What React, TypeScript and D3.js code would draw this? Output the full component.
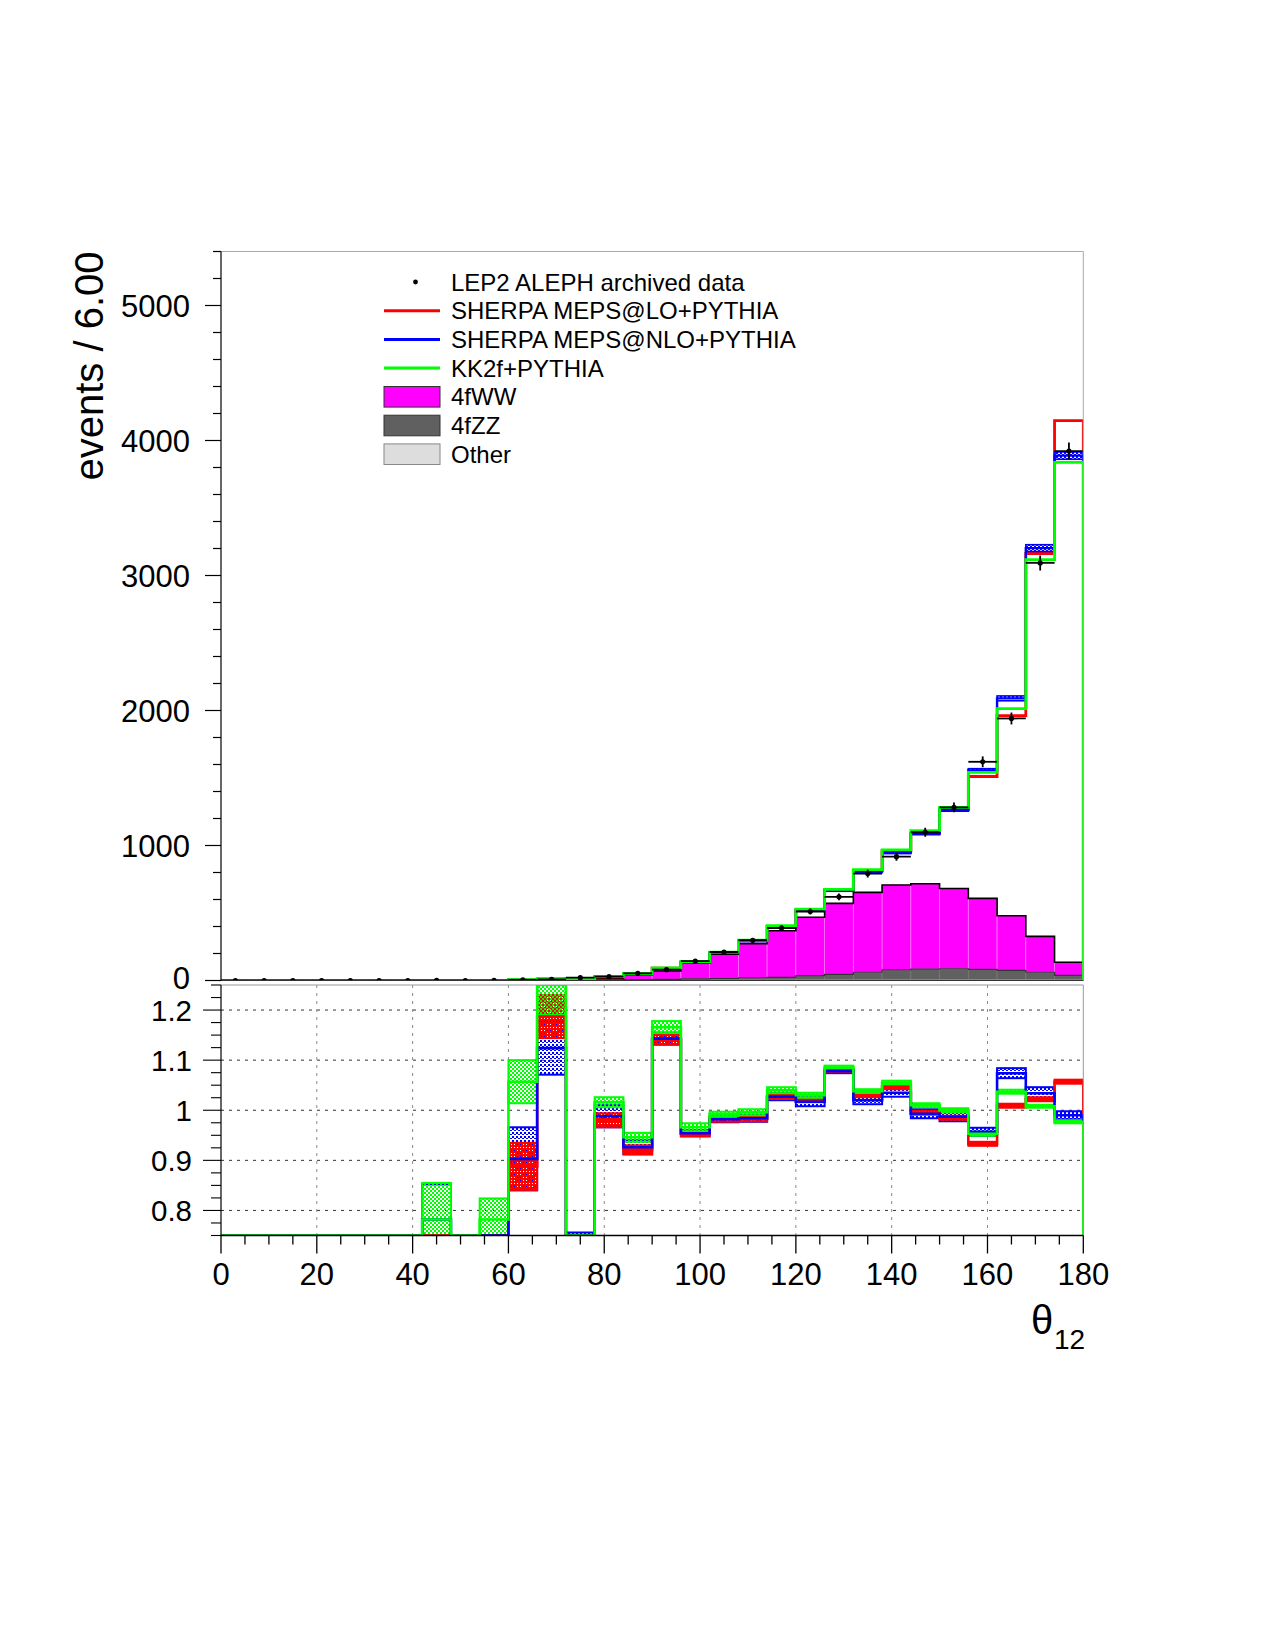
import React from "react";
import * as d3 from "d3";

// theta_12 binning (degrees)
const binStart = 0;
const binEnd = 180;
const binWidth = 6;

// LEP2 ALEPH archived data, events / bin
const dataCounts = [0, 0, 0, 0, 0, 0, 0, 1, 0, 1, 5, 9, 21, 28, 53, 80, 144, 211, 298, 389, 511, 620, 792, 917, 1098, 1283, 1620, 1941, 3093, 3922];

// total predictions (signal + backgrounds)
const sherpaLO = [0, 0, 0, 0, 0, 0, 0, 0, 0, 0, 5, 11, 14, 27, 49, 91, 137, 207, 293, 400, 521, 669, 816, 960, 1092, 1264, 1511, 1962, 3163, 4147];
const sherpaNLO = [0, 0, 0, 0, 0, 0, 0, 1, 0, 0, 5, 10, 15, 28, 49, 91, 137, 207, 293, 400, 520, 668, 808, 949, 1090, 1266, 1556, 2090, 3203, 3888];
const sherpaNLOErr = [0, 0, 0, 0, 0, 0, 0, 0, 0, 0, 1, 1, 2, 2, 3, 3, 3, 3, 4, 4, 6, 7, 8, 9, 10, 12, 13, 18, 25, 27];
const kk2f = [0, 0, 0, 0, 0, 0, 0, 1, 0, 1, 6, 11, 14, 29, 50, 93, 140, 210, 298, 406, 528, 675, 822, 968, 1110, 1283, 1542, 2014, 3118, 3838];

// stacked backgrounds (bottom to top)
const bkgOther = [0, 0, 0, 0, 0, 0, 0, 0, 0, 0, 1, 1, 1, 1, 2, 2, 2, 3, 3, 3, 4, 4, 5, 5, 5, 6, 6, 6, 6, 5];
const bkgZZ = [0, 0, 0, 0, 0, 0, 0, 0, 0, 0, 1, 1, 1, 3, 5, 7, 10, 12, 16, 20, 32, 42, 56, 73, 80, 81, 77, 69, 55, 33];
const bkgWW = [0, 0, 0, 0, 0, 0, 0, 0, 0, 0, 3, 7, 9, 12, 34, 61, 120, 179, 253, 346, 432, 525, 592, 629, 632, 595, 525, 405, 266, 97];

// ratio MC / data with band half-widths
const ratioLO = [0, 0, 0, 0, 0, 0, 0, 0, 0, 0, 0.888, 1.187, 0.69, 0.98, 0.921, 1.142, 0.953, 0.982, 0.983, 1.028, 1.02, 1.079, 1.03, 1.047, 0.995, 0.985, 0.933, 1.009, 1.022, 1.057];
const ratioLOErr = [0, 0, 0, 0, 0, 0, 0, 0, 0, 0, 0.047, 0.043, 0.05, 0.014, 0.009, 0.011, 0.005, 0.005, 0.005, 0.004, 0.004, 0.003, 0.004, 0.005, 0.004, 0.004, 0.004, 0.004, 0.004, 0.004];
const ratioNLO = [0, 0, 0, 0, 0, 0, 0, 0.782, 0, 0, 0.903, 1.124, 0.71, 0.988, 0.926, 1.143, 0.954, 0.982, 0.984, 1.027, 1.017, 1.078, 1.02, 1.035, 0.993, 0.987, 0.957, 1.074, 1.034, 0.99];
const ratioNLOErr = [0, 0, 0, 0, 0, 0, 0, 0.07, 0, 0, 0.063, 0.053, 0.046, 0.022, 0.014, 0.012, 0.006, 0.006, 0.007, 0.007, 0.009, 0.004, 0.008, 0.008, 0.009, 0.009, 0.008, 0.01, 0.012, 0.008];
const ratioKK = [0, 0, 0, 0, 0, 0, 0, 0.782, 0, 0.782, 1.057, 1.27, 0.68, 1.016, 0.946, 1.166, 0.966, 0.992, 0.996, 1.04, 1.03, 1.085, 1.038, 1.055, 1.01, 1.0, 0.953, 1.037, 1.008, 0.977];
const ratioKKErr = [0, 0, 0, 0, 0, 0, 0, 0.073, 0, 0.042, 0.043, 0.08, 0.05, 0.01, 0.009, 0.012, 0.008, 0.005, 0.006, 0.006, 0.005, 0.004, 0.004, 0.004, 0.004, 0.004, 0.004, 0.004, 0.003, 0.003];

const mainYTicks = [0, 1000, 2000, 3000, 4000, 5000];
const ratioYTicks = [0.8, 0.9, 1, 1.1, 1.2];
const xTicks = [0, 20, 40, 60, 80, 100, 120, 140, 160, 180];

const legendLines = [
  { label: "SHERPA MEPS@LO+PYTHIA", color: "#ff0000" },
  { label: "SHERPA MEPS@NLO+PYTHIA", color: "#0000ff" },
  { label: "KK2f+PYTHIA", color: "#00ff00" },
];
const legendBoxes = [
  { label: "4fWW", color: "#ff00ff", edge: "#333" },
  { label: "4fZZ", color: "#606060", edge: "#333" },
  { label: "Other", color: "#dddddd", edge: "#888" },
];

const font = "'Liberation Sans', Arial, Helvetica, sans-serif";
const left = 221;
const right = 1083.3;
const mainTop = 251.5;
const mainBottom = 980.5;
const ratioTop = 985;
const ratioBottom = 1235.5;

export default function App() {
  const edges = d3.range(binStart, binEnd + binWidth / 2, binWidth);
  const x = d3.scaleLinear().domain([binStart, binEnd]).range([left, right]);
  const y = d3.scaleLinear().domain([0, 5400]).range([mainBottom, mainTop]);
  const yr = d3.scaleLinear().domain([0.75, 1.25]).range([ratioBottom, ratioTop]);
  const line = d3.line();

  const clampR = (v) => Math.max(0.75, Math.min(1.25, v));

  // histogram outline, dropping to the base at both ends
  const stepPath = (vals, ys, base) => {
    const pts = [[x(edges[0]), ys(base)]];
    vals.forEach((v, i) => {
      pts.push([x(edges[i]), ys(v)], [x(edges[i + 1]), ys(v)]);
    });
    pts.push([x(edges[edges.length - 1]), ys(base)]);
    return line(pts);
  };

  const table = dataCounts.map((_, i) => ({ other: bkgOther[i], zz: bkgZZ[i], ww: bkgWW[i] }));
  const stacked = d3.stack().keys(["other", "zz", "ww"])(table);
  const stackFill = { other: "#dddddd", zz: "#606060", ww: "#ff00ff" };
  const stackSep = { other: "#eeeeee", zz: "#777777", ww: "#ff70ff" };
  const stackEdge = { other: "#888", zz: "#333", ww: "#000" };

  const kkSet = { c: ratioKK, e: ratioKKErr, color: "#00ff00", pat: "patG" };
  const loSet = { c: ratioLO, e: ratioLOErr, color: "#ff0000", pat: "patR" };
  const nloSet = { c: ratioNLO, e: ratioNLOErr, color: "#0000ff", pat: "patB" };
  const bandOrder = [nloSet, loSet, kkSet];
  const ratioLineOrder = [loSet, nloSet, kkSet];

  return (
    <svg width={1275} height={1650} style={{ position: "absolute", left: 0, top: 0, background: "#fff" }} fontFamily={font}>
      <defs>
        <clipPath id="clipMain">
          <rect x={left} y={mainTop} width={right - left} height={mainBottom - mainTop} />
        </clipPath>
        <clipPath id="clipRatio">
          <rect x={left} y={ratioTop} width={right - left} height={ratioBottom - ratioTop} />
        </clipPath>
        <pattern id="patG" width={4} height={4} patternUnits="userSpaceOnUse">
          <rect x={0} y={0} width={2} height={2} fill="#00ff00" />
          <rect x={2} y={2} width={2} height={2} fill="#00ff00" />
        </pattern>
        <pattern id="patR" width={3} height={3} patternUnits="userSpaceOnUse">
          <path d="M0 0h3v3h-3z M1 1h1v1h-1z" fill="#ff0000" fillRule="evenodd" />
        </pattern>
        <pattern id="patB" width={4} height={4} patternUnits="userSpaceOnUse">
          <rect x={0} y={0} width={2} height={2} fill="#0000ff" />
          <rect x={2} y={2} width={2} height={1} fill="#0000ff" />
        </pattern>
      </defs>

      {/* ---------- main pad ---------- */}
      <g clipPath="url(#clipMain)">
        {stacked.map((layer) => (
          <g key={layer.key}>
            {layer.map((d, i) => (
              <rect
                key={i}
                x={x(edges[i])}
                y={y(d[1])}
                width={x(edges[i + 1]) - x(edges[i])}
                height={Math.max(0, y(d[0]) - y(d[1]))}
                fill={stackFill[layer.key]}
                stroke={stackSep[layer.key]}
                strokeWidth={0.8}
              />
            ))}
          </g>
        ))}
        {stacked.map((layer) => (
          <path
            key={layer.key}
            d={stepPath(layer.map((d) => d[1]), y, 0)}
            fill="none"
            stroke={stackEdge[layer.key]}
            strokeWidth={layer.key === "ww" ? 1.6 : 1.2}
          />
        ))}

        <path d={stepPath(sherpaLO, y, 0)} fill="none" stroke="#ff0000" strokeWidth={2.8} />
        {sherpaNLO.map((v, i) =>
          sherpaNLOErr[i] > 0 ? (
            <rect
              key={i}
              x={x(edges[i])}
              y={y(v + sherpaNLOErr[i])}
              width={x(edges[i + 1]) - x(edges[i])}
              height={y(v - sherpaNLOErr[i]) - y(v + sherpaNLOErr[i])}
              fill="url(#patB)"
              stroke="#0000ff"
              strokeWidth={1.6}
            />
          ) : null
        )}
        <path d={stepPath(sherpaNLO, y, 0)} fill="none" stroke="#0000ff" strokeWidth={2.4} />
        <path d={stepPath(kk2f, y, 0)} fill="none" stroke="#00ff00" strokeWidth={2.8} />

        {dataCounts.map((v, i) => {
          const cx = x((edges[i] + edges[i + 1]) / 2);
          const err = Math.sqrt(v);
          return (
            <g key={i} stroke="#000" strokeWidth={1.8}>
              <line x1={x(edges[i])} x2={x(edges[i + 1])} y1={y(v)} y2={y(v)} />
              {v > 0 && <line x1={cx} x2={cx} y1={y(v + err)} y2={y(v - err)} />}
              <circle cx={cx} cy={y(v)} r={2.6} fill="#000" stroke="none" />
            </g>
          );
        })}
      </g>

      {/* main frame */}
      <line x1={left} x2={right} y1={mainTop} y2={mainTop} stroke="#aaa" strokeWidth={1} />
      <line x1={right} x2={right} y1={mainTop} y2={mainBottom} stroke="#aaa" strokeWidth={1} />
      <line x1={left} x2={right} y1={mainBottom} y2={mainBottom} stroke="#333" strokeWidth={1} />
      <line x1={left} x2={left} y1={mainTop} y2={mainBottom} stroke="#000" strokeWidth={1.2} />
      {d3.range(0, 5401, 200).map((t) => (
        <line key={t} x1={left - (t % 1000 === 0 ? 16 : 8)} x2={left} y1={y(t)} y2={y(t)} stroke="#000" strokeWidth={1.2} />
      ))}
      {mainYTicks.map((t) => (
        <text key={t} x={190} y={y(t) + (t === 0 ? 8 : 11)} fontSize={31} textAnchor="end" fill="#000">
          {t}
        </text>
      ))}
      <text transform={`translate(103, ${mainTop}) rotate(-90)`} fontSize={40} textAnchor="end" fill="#000">
        events / 6.00
      </text>

      {/* legend */}
      <g>
        <circle cx={415.5} cy={282} r={2.4} fill="#000" />
        <text x={451} y={282 + 8.6} fontSize={24} fill="#000">
          LEP2 ALEPH archived data
        </text>
        {legendLines.map((d, i) => {
          const ly = 282 + 28.7 * (i + 1);
          return (
            <g key={d.label}>
              <line x1={384} x2={440} y1={ly} y2={ly} stroke={d.color} strokeWidth={3} />
              <text x={451} y={ly + 8.6} fontSize={24} fill="#000">
                {d.label}
              </text>
            </g>
          );
        })}
        {legendBoxes.map((d, i) => {
          const ly = 282 + 28.7 * (i + 4);
          return (
            <g key={d.label}>
              <rect x={384} y={ly - 10.3} width={56} height={20.6} fill={d.color} stroke={d.edge} strokeWidth={1} />
              <text x={451} y={ly + 8.6} fontSize={24} fill="#000">
                {d.label}
              </text>
            </g>
          );
        })}
      </g>

      {/* ---------- ratio pad ---------- */}
      {ratioYTicks.map((t) => (
        <line key={t} x1={left} x2={right} y1={yr(t)} y2={yr(t)} stroke="#333" strokeWidth={1} strokeDasharray="3,5" />
      ))}
      {xTicks.slice(1, -1).map((t) => (
        <line key={t} x1={x(t)} x2={x(t)} y1={ratioTop} y2={ratioBottom} stroke="#888" strokeWidth={1} strokeDasharray="3,5" />
      ))}

      <g clipPath="url(#clipRatio)">
        {bandOrder.map((s) => (
          <g key={s.pat}>
            {s.c.map((v, i) => {
              if (s.e[i] <= 0) return null;
              const hi = clampR(v + s.e[i]);
              const lo = clampR(v - s.e[i]);
              if (hi - lo <= 0) return null;
              return (
                <rect
                  key={i}
                  x={x(edges[i])}
                  y={yr(hi)}
                  width={x(edges[i + 1]) - x(edges[i])}
                  height={yr(lo) - yr(hi)}
                  fill={`url(#${s.pat})`}
                  stroke={s.color}
                  strokeWidth={2}
                />
              );
            })}
          </g>
        ))}
        {ratioLineOrder.map((s) => (
          <path key={s.pat} d={stepPath(s.c.map(clampR), yr, 0.75)} fill="none" stroke={s.color} strokeWidth={2.6} />
        ))}
      </g>

      {/* ratio frame and axes */}
      <line x1={left} x2={right} y1={ratioTop} y2={ratioTop} stroke="#999" strokeWidth={1} />
      <line x1={right} x2={right} y1={ratioTop} y2={ratioBottom} stroke="#999" strokeWidth={1} />
      <line x1={left} x2={left} y1={ratioTop} y2={ratioBottom} stroke="#000" strokeWidth={1.2} />
      <line x1={left} x2={right} y1={ratioBottom} y2={ratioBottom} stroke="#000" strokeWidth={1.4} />
      {d3.range(0, 21).map((k) => {
        const t = 0.75 + k * 0.025;
        const major = k % 4 === 2;
        return <line key={k} x1={left - (major ? 18 : 10)} x2={left} y1={yr(t)} y2={yr(t)} stroke="#000" strokeWidth={1.1} />;
      })}
      {ratioYTicks.map((t) => (
        <text key={t} x={192} y={yr(t) + 10.5} fontSize={29.5} textAnchor="end" fill="#000">
          {String(t)}
        </text>
      ))}
      {d3.range(binStart, binEnd + 1, 5).map((t) => (
        <line key={t} x1={x(t)} x2={x(t)} y1={ratioBottom} y2={ratioBottom + (t % 20 === 0 ? 18 : 9)} stroke="#000" strokeWidth={1.3} />
      ))}
      {xTicks.map((t) => (
        <text key={t} x={x(t)} y={1284.5} fontSize={31} textAnchor="middle" fill="#000">
          {t}
        </text>
      ))}
      <text x={1031} y={1334} fontSize={40} fill="#000">
        θ
      </text>
      <text x={1054} y={1349} fontSize={28} fill="#000">
        12
      </text>
    </svg>
  );
}
